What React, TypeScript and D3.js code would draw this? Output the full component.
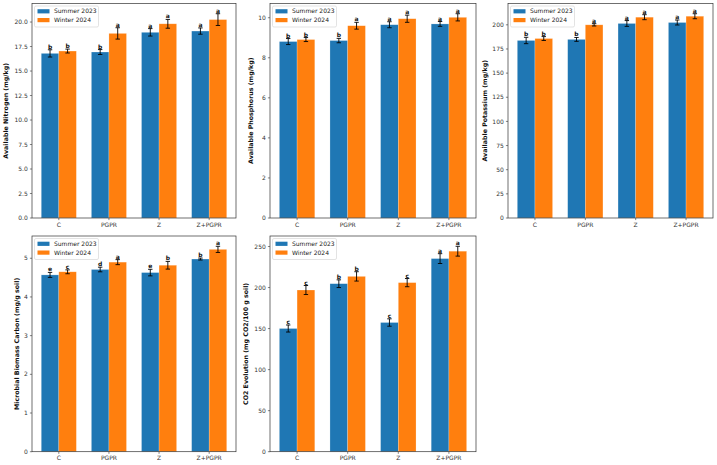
import * as d3 from "d3";
import React from "react";

const categories = ["C", "PGPR", "Z", "Z+PGPR"];
const seasons = ["Summer 2023", "Winter 2024"];
const seasonColors = ["#1f77b4", "#ff7f0e"];

// available nitrogen (mg/kg)
const nitrogenSummer = [16.8, 16.94, 18.95, 19.08];
const nitrogenWinter = [17.04, 18.84, 19.82, 20.25];
const nitrogenSummerErr = [0.37, 0.25, 0.38, 0.32];
const nitrogenWinterErr = [0.2, 0.58, 0.45, 0.6];
const nitrogenSummerLetters = ["b", "b", "a", "a"];
const nitrogenWinterLetters = ["b", "a", "a", "a"];
const nitrogenTicks = [0, 2.5, 5, 7.5, 10, 12.5, 15, 17.5, 20];

// available phosphorus (mg/kg)
const phosphorusSummer = [8.81, 8.86, 9.65, 9.69];
const phosphorusWinter = [8.91, 9.6, 9.95, 10.02];
const phosphorusSummerErr = [0.15, 0.11, 0.15, 0.12];
const phosphorusWinterErr = [0.1, 0.17, 0.18, 0.18];
const phosphorusSummerLetters = ["b", "b", "a", "a"];
const phosphorusWinterLetters = ["b", "a", "a", "a"];
const phosphorusTicks = [0, 2, 4, 6, 8, 10];

// available potassium (mg/kg)
const potassiumSummer = [183.8, 184.9, 201.4, 202.4];
const potassiumWinter = [185.8, 200.0, 207.9, 208.9];
const potassiumSummerErr = [3.3, 2.0, 3.0, 2.6];
const potassiumWinterErr = [2.0, 1.2, 2.6, 2.6];
const potassiumSummerLetters = ["b", "b", "a", "a"];
const potassiumWinterLetters = ["b", "a", "a", "a"];
const potassiumTicks = [0, 25, 50, 75, 100, 125, 150, 175, 200];

// microbial biomass carbon (mg/g soil)
const mbcSummer = [4.57, 4.71, 4.63, 4.98];
const mbcWinter = [4.65, 4.9, 4.82, 5.23];
const mbcSummerErr = [0.065, 0.06, 0.085, 0.025];
const mbcWinterErr = [0.05, 0.065, 0.1, 0.08];
const mbcSummerLetters = ["e", "d", "e", "b"];
const mbcWinterLetters = ["c", "a", "b", "a"];
const mbcTicks = [0, 1, 2, 3, 4, 5];

// CO2 evolution (mg CO2/100 g soil)
const co2Summer = [150.1, 204.7, 157.4, 235.3];
const co2Winter = [197.0, 213.6, 206.0, 244.3];
const co2SummerErr = [4.3, 4.7, 4.5, 6.0];
const co2WinterErr = [5.5, 5.7, 5.0, 6.0];
const co2SummerLetters = ["c", "b", "c", "a"];
const co2WinterLetters = ["c", "b", "c", "a"];
const co2Ticks = [0, 50, 100, 150, 200, 250];

const W = 717;
const H = 465;
const barWidth = 0.35;
const font = "DejaVu Sans, sans-serif";

type Panel = {
  label: string;
  summer: number[];
  winter: number[];
  summerErr: number[];
  winterErr: number[];
  summerLetters: string[];
  winterLetters: string[];
  ticks: number[];
  fmt: (v: number) => string;
  left: number;
  right: number;
  top: number;
  bottom: number;
  labelX: number;
};

const padMax = (s: number[], se: number[], w: number[], we: number[]) =>
  1.05 * d3.max([...s.map((v, i) => v + se[i]), ...w.map((v, i) => v + we[i])])!;

const panels: Panel[] = [
  {
    label: "Available Nitrogen (mg/kg)",
    summer: nitrogenSummer, winter: nitrogenWinter,
    summerErr: nitrogenSummerErr, winterErr: nitrogenWinterErr,
    summerLetters: nitrogenSummerLetters, winterLetters: nitrogenWinterLetters,
    ticks: nitrogenTicks, fmt: d3.format(".1f"),
    left: 32, right: 236, top: 3.5, bottom: 218, labelX: 6,
  },
  {
    label: "Available Phosphorus (mg/kg)",
    summer: phosphorusSummer, winter: phosphorusWinter,
    summerErr: phosphorusSummerErr, winterErr: phosphorusWinterErr,
    summerLetters: phosphorusSummerLetters, winterLetters: phosphorusWinterLetters,
    ticks: phosphorusTicks, fmt: d3.format("d"),
    left: 270, right: 476, top: 3.5, bottom: 218, labelX: 251,
  },
  {
    label: "Available Potassium (mg/kg)",
    summer: potassiumSummer, winter: potassiumWinter,
    summerErr: potassiumSummerErr, winterErr: potassiumWinterErr,
    summerLetters: potassiumSummerLetters, winterLetters: potassiumWinterLetters,
    ticks: potassiumTicks, fmt: d3.format("d"),
    left: 508, right: 713, top: 3.5, bottom: 218, labelX: 485,
  },
  {
    label: "Microbial Biomass Carbon (mg/g soil)",
    summer: mbcSummer, winter: mbcWinter,
    summerErr: mbcSummerErr, winterErr: mbcWinterErr,
    summerLetters: mbcSummerLetters, winterLetters: mbcWinterLetters,
    ticks: mbcTicks, fmt: d3.format("d"),
    left: 32, right: 236, top: 236, bottom: 451.7, labelX: 16.7,
  },
  {
    label: "CO2 Evolution (mg CO2/100 g soil)",
    summer: co2Summer, winter: co2Winter,
    summerErr: co2SummerErr, winterErr: co2WinterErr,
    summerLetters: co2SummerLetters, winterLetters: co2WinterLetters,
    ticks: co2Ticks, fmt: d3.format("d"),
    left: 270, right: 476, top: 236, bottom: 451.7, labelX: 246,
  },
];

function BarPanel({ p }: { p: Panel }) {
  const x = d3.scaleLinear().domain([-0.535, 3.535]).range([p.left, p.right]);
  const yMax = padMax(p.summer, p.summerErr, p.winter, p.winterErr);
  const y = d3.scaleLinear().domain([0, yMax]).range([p.bottom, p.top]);
  const series = [
    { vals: p.summer, errs: p.summerErr, letters: p.summerLetters, off: -barWidth / 2 },
    { vals: p.winter, errs: p.winterErr, letters: p.winterLetters, off: barWidth / 2 },
  ];
  const cy = (p.top + p.bottom) / 2;

  return (
    <g fontFamily={font}>
      {series.map((s, si) =>
        s.vals.map((v, i) => {
          const cx = x(i + s.off);
          const x0 = x(i + s.off - barWidth / 2);
          const x1 = x(i + s.off + barWidth / 2);
          const hi = y(v + s.errs[i]);
          const lo = y(v - s.errs[i]);
          return (
            <g key={`${si}-${i}`}>
              <rect x={x0} y={y(v)} width={x1 - x0} height={y(0) - y(v)}
                fill={seasonColors[si]} stroke="#ffffff" strokeOpacity={0.35} strokeWidth={0.6} />
              <line x1={cx} x2={cx} y1={hi} y2={lo} stroke="#000" strokeWidth={0.9} />
              <line x1={cx - 2.2} x2={cx + 2.2} y1={hi} y2={hi} stroke="#000" strokeWidth={0.9} />
              <line x1={cx - 2.2} x2={cx + 2.2} y1={lo} y2={lo} stroke="#000" strokeWidth={0.9} />
              <text x={cx} y={hi - 1} textAnchor="middle" fontSize={6} fontWeight="bold" fill="#111">
                {s.letters[i]}
              </text>
            </g>
          );
        })
      )}

      {/* y axis */}
      {p.ticks.map((t) => (
        <g key={`yt-${t}`}>
          <line x1={p.left - 2.1} x2={p.left} y1={y(t)} y2={y(t)} stroke="#333" strokeWidth={0.6} />
          <text x={p.left - 4.2} y={y(t)} dy="0.35em" textAnchor="end" fontSize={6} fill="#333">
            {p.fmt(t)}
          </text>
        </g>
      ))}
      {/* x axis */}
      {categories.map((c, i) => (
        <g key={`xt-${c}`}>
          <line x1={x(i)} x2={x(i)} y1={p.bottom} y2={p.bottom + 2.1} stroke="#333" strokeWidth={0.6} />
          <text x={x(i)} y={p.bottom + 4.2} dy="0.76em" textAnchor="middle" fontSize={6} fill="#333">
            {c}
          </text>
        </g>
      ))}

      <rect x={p.left} y={p.top} width={p.right - p.left} height={p.bottom - p.top}
        fill="none" stroke="#333" strokeWidth={0.7} />

      <text transform={`translate(${p.labelX},${cy}) rotate(-90)`} dy="0.35em"
        textAnchor="middle" fontSize={6.3} fontWeight="bold" fill="#111">
        {p.label}
      </text>

      {/* legend */}
      <g transform={`translate(${p.left + 2.5},${p.top + 2.5})`}>
        <rect x={0} y={0} width={64} height={21} rx={1.5} fill="#fff" fillOpacity={0.8}
          stroke="#d0d0d0" strokeWidth={0.6} />
        {seasons.map((s, i) => (
          <g key={s} transform={`translate(0,${5.3 + i * 8.8})`}>
            <rect x={3} y={-2.1} width={12} height={4.2} fill={seasonColors[i]} />
            <text x={19.5} y={0} dy="0.35em" fontSize={6} fill="#222">{s}</text>
          </g>
        ))}
      </g>
    </g>
  );
}

export default function App() {
  return (
    <div style={{ position: "fixed", left: 0, top: 0 }}>
      <svg width={W} height={H} style={{ display: "block", background: "#fff" }}>
        {panels.map((p) => (
          <BarPanel key={p.label} p={p} />
        ))}
      </svg>
    </div>
  );
}
